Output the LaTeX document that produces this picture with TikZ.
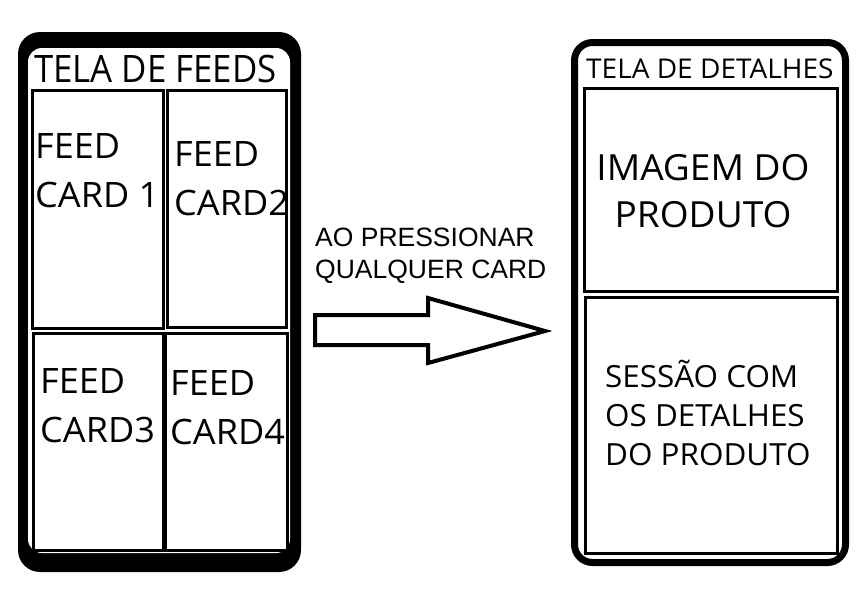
\documentclass[tikz,border=0pt]{standalone}
\usepackage{fontspec}
\setmainfont{Open Sans}[FakeStretch=1.03]
\newfontfamily\feedsfont{Open Sans}[FakeStretch=0.92]
\newfontfamily\arialfont{Liberation Sans}
\usetikzlibrary{positioning}

\begin{document}
\begin{tikzpicture}[x=1pt,y=-1pt,
    cardbox/.style={draw, line width=3pt, minimum width=#1},
    cardtext/.style={anchor=base west, inner sep=0pt, align=left, font=\fontsize{35}{49}\selectfont},
    titletext/.style={anchor=base west, inner sep=0pt}]
    \useasboundingbox[fill=white](0,0)rectangle(867,606);

    \fill[black, rounded corners=22](18,32)rectangle(301,572);
    \fill[white, rounded corners=14](28,48)rectangle(290,553);
    \node[titletext, font=\feedsfont\fontsize{37.8}{45}\selectfont](feedstitle)at(34,82){TELA DE FEEDS};

    \node[cardbox=131pt, minimum height=238pt](card1)at(97.5,209){};
    \node[cardbox=119pt, minimum height=237pt](card2)at(226.5,208.5){};
    \node[cardbox=130pt, minimum height=217pt](card3)at(98,441.5){};
    \node[cardbox=122pt, minimum height=217pt](card4)at(226,441.5){};

    \node[cardtext](card1text)at(35,207){FEED\\CARD 1};
    \node[cardtext](card2text)at(174,215){FEED\\CARD2};
    \node[cardtext](card3text)at(40,442){FEED\\CARD3};
    \node[cardtext](card4text)at(170,444){FEED\\CARD4};

    \node[anchor=base west, inner sep=0pt, align=left, font=\arialfont\fontsize{26.5}{32}\selectfont](acao)at(315,278){AO PRESSIONAR\\QUALQUER CARD};
    \draw[line width=4pt, line join=miter](315,315)--(428,315)--(428,298)--(545,331)--(428,363)--(428,345)--(315,345)--cycle;

    \draw[line width=7pt, rounded corners=18](574.5,42.5)rectangle(845.5,562.5);
    \node[titletext, font=\fontsize{27.2}{34}\selectfont](detalhestitle)at(586,78){TELA DE DETALHES};

    \node[cardbox=253pt, minimum height=203pt](imagem)at(710.5,189.5){};
    \node[cardbox=252pt, minimum height=256pt](sessao)at(711,425){};

    \node[anchor=base, inner sep=0pt, align=center, font=\fontsize{36}{47}\selectfont](imagemtext)at(703,227){IMAGEM DO\\PRODUTO};
    \node[cardtext, font=\fontsize{30.5}{39}\selectfont](sessaotext)at(605,465){SESSÃO COM\\OS DETALHES\\DO PRODUTO};
\end{tikzpicture}
\end{document}
